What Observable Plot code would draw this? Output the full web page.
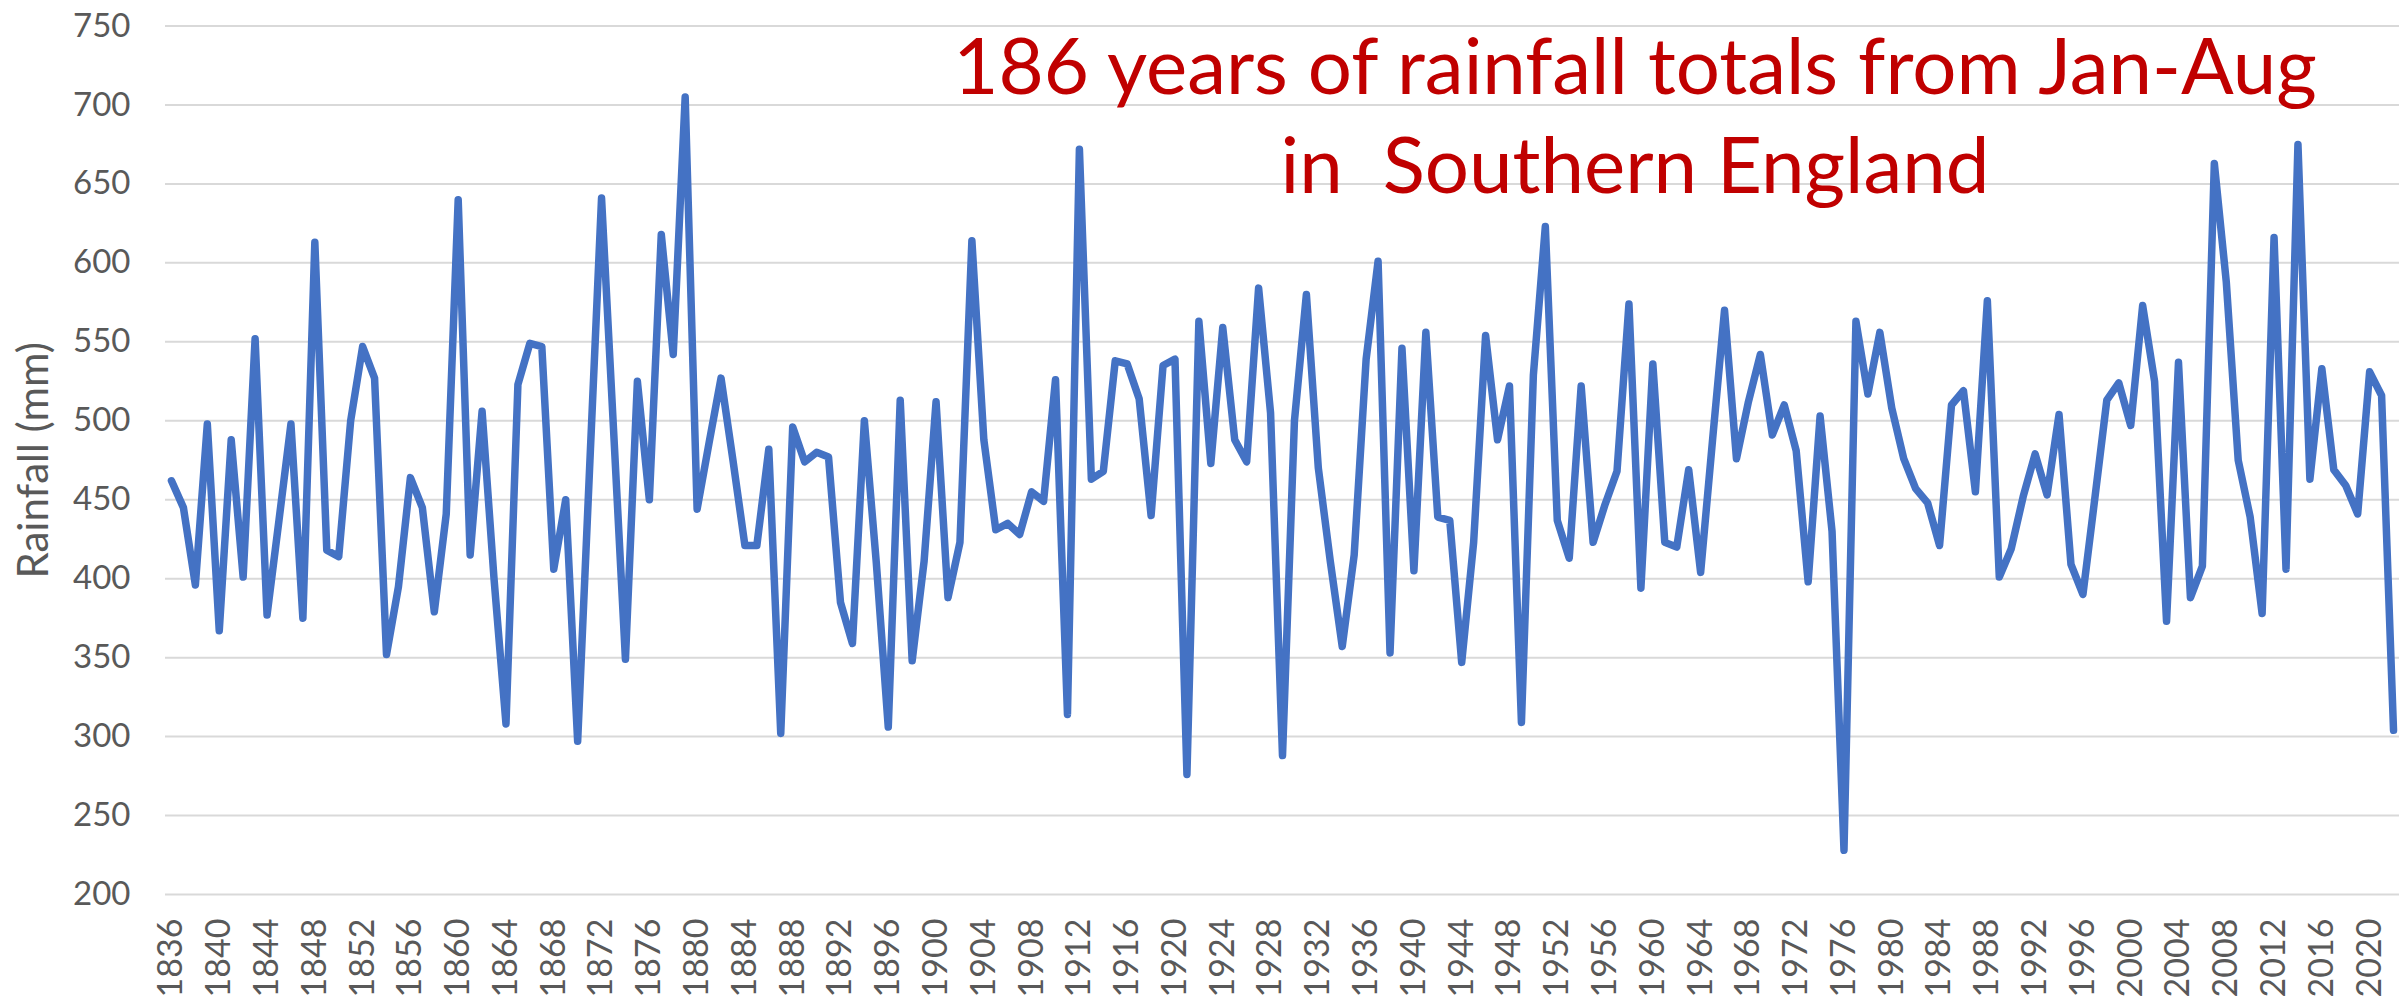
<!DOCTYPE html>
<html>
<head>
<meta charset="utf-8">
<script src="https://cdn.jsdelivr.net/npm/d3@7"></script>
<script src="https://cdn.jsdelivr.net/npm/@observablehq/plot@0.6"></script>
<style>
  html, body { margin: 0; padding: 0; background: #ffffff; }
  #wrap { position: relative; width: 2399px; height: 999px; overflow: hidden; background: #ffffff; }
  #title {
    position: absolute; top: 15px; left: 1635px; transform: translateX(-50%);
    font-family: Lato, "Open Sans", sans-serif; font-size: 78px; line-height: 99px;
    color: #C00000; text-align: center; white-space: pre; pointer-events: none;
  }
</style>
</head>
<body>
<div id="wrap"></div>
<script>
// ---- Data (Jan–Aug rainfall totals, Southern England, mm) ----
const years = d3.range(1836, 2023);
const rainfall = [
  462, 445, 396, 498, 367, 488, 401, 552, 377, 437, // 1836-1845
  498, 375, 613, 418, 414, 500, 547, 527, 352, 395, // 1846-1855
  464, 445, 379, 441, 640, 415, 506, 400, 308, 523, // 1856-1865
  549, 547, 406, 450, 297, 470, 641, 495, 349, 525, // 1866-1875
  450, 618, 542, 705, 444, 486, 527, 475, 421, 421, // 1876-1885
  482, 302, 496, 474, 480, 477, 385, 359, 500, 410, // 1886-1895
  306, 513, 348, 411, 512, 388, 423, 614, 488, 431, // 1896-1905
  435, 428, 455, 449, 526, 314, 672, 463, 468, 538, // 1906-1915
  536, 514, 440, 535, 539, 276, 563, 473, 559, 488, // 1916-1925
  474, 584, 505, 288, 500, 580, 470, 411, 357, 415, // 1926-1935
  539, 601, 353, 546, 405, 556, 439, 437, 347, 423, // 1936-1945
  554, 488, 522, 309, 529, 623, 437, 413, 522, 423, // 1946-1955
  447, 468, 574, 394, 536, 423, 420, 469, 404, 488, // 1956-1965
  570, 476, 512, 542, 491, 510, 481, 398, 503, 430, // 1966-1975
  228, 563, 517, 556, 508, 476, 457, 448, 421, 510, // 1976-1985
  519, 455, 576, 401, 419, 452, 479, 453, 504, 409, // 1986-1995
  390, 451, 513, 524, 497, 573, 525, 373, 537, 388, // 1996-2005
  408, 663, 588, 475, 439, 378, 616, 406, 675, 463, // 2006-2015
  533, 469, 459, 441, 531, 516, 304                 // 2016-2022
];
const xTickLabels = [
  1836, 1840, 1844, 1848, 1852, 1856, 1860, 1864, 1868, 1872, 1876, 1880,
  1884, 1888, 1892, 1896, 1900, 1904, 1908, 1912, 1916, 1920, 1924, 1928,
  1932, 1936, 1940, 1944, 1948, 1952, 1956, 1960, 1964, 1968, 1972, 1976,
  1980, 1984, 1988, 1992, 1996, 2000, 2004, 2008, 2012, 2016, 2020
];
const yTickLabels = [200, 250, 300, 350, 400, 450, 500, 550, 600, 650, 700, 750];
const titleLines = ["186 years of rainfall totals from Jan-Aug", "in  Southern England"];
const yAxisTitle = "Rainfall (mm)";

const rows = years.map((year, i) => ({year, rain: rainfall[i]}));

const chart = Plot.plot({
  width: 2399,
  height: 999,
  marginLeft: 165,
  marginRight: 0,
  marginTop: 25.5,
  marginBottom: 105,
  style: {fontFamily: "Lato, 'Open Sans', sans-serif", background: "#ffffff", color: "#595959"},
  x: {domain: [1835.5, 2022.5], axis: null},
  y: {domain: [200, 750], axis: null},
  marks: [
    Plot.ruleY(yTickLabels, {stroke: "#D9D9D9", strokeWidth: 2}),
    Plot.axisY(yTickLabels, {tickSize: 0, tickPadding: 35, fontSize: 33, fill: "#595959", label: null}),
    Plot.axisX(xTickLabels, {tickSize: 0, tickPadding: 24, tickRotate: -90, fontSize: 34, fill: "#595959", label: null, tickFormat: d => String(d)}),
    Plot.text([yAxisTitle], {text: d => d, frameAnchor: "left", textAnchor: "middle", dx: -131, rotate: -90, fontSize: 42, fill: "#595959"}),
    Plot.lineY(rows, {x: "year", y: "rain", stroke: "#4472C4", strokeWidth: 7.5, strokeLinejoin: "round", strokeLinecap: "round"})
  ]
});

const wrap = document.getElementById("wrap");
wrap.appendChild(chart);
const title = document.createElement("div");
title.id = "title";
title.textContent = titleLines.join("\n");
wrap.appendChild(title);
</script>
</body>
</html>
